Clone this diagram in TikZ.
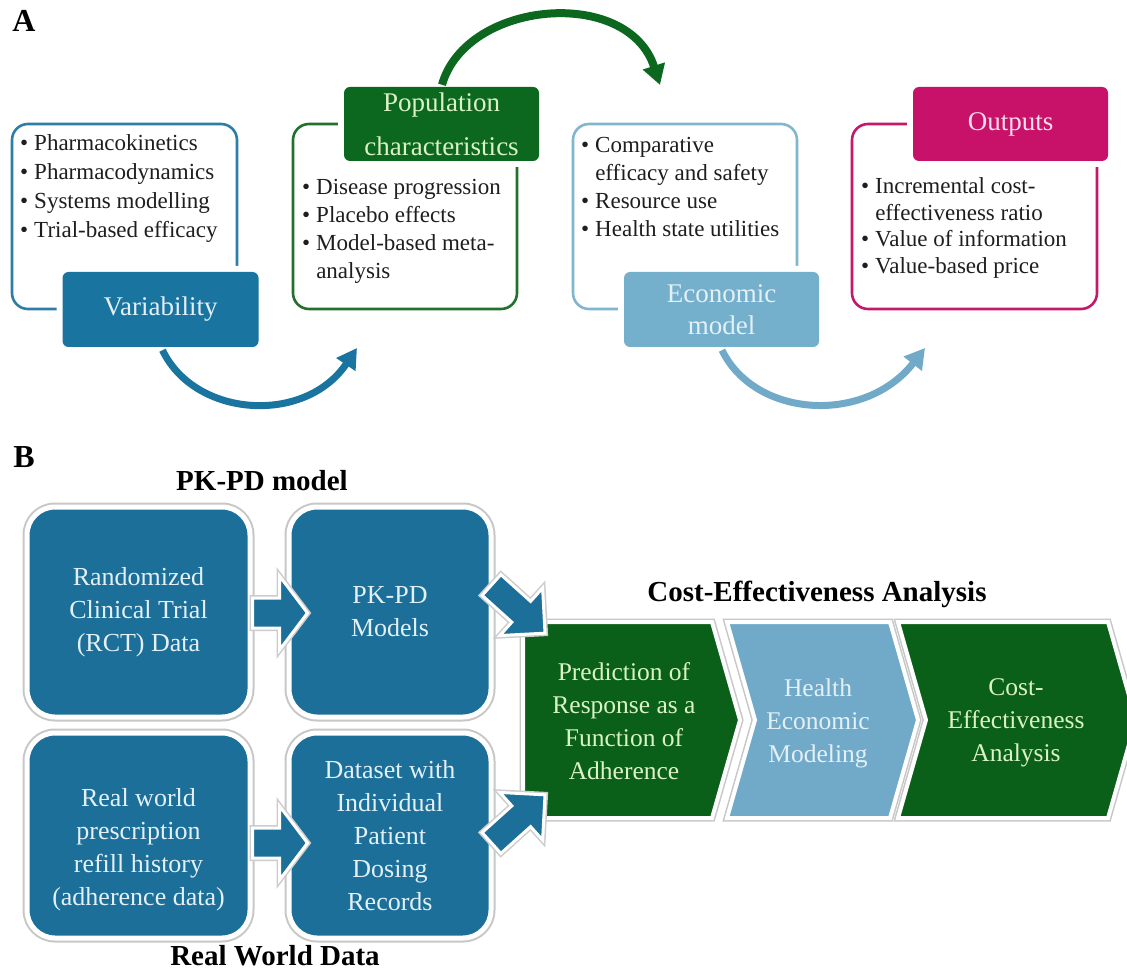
\documentclass[tikz,border=0pt]{standalone}
\usepackage{fontspec}
\setmainfont{Liberation Serif}
\usetikzlibrary{calc,arrows.meta}
\definecolor{vblue}{RGB}{26,116,160}
\definecolor{vline}{RGB}{45,125,165}
\definecolor{pgreen}{RGB}{12,104,30}
\definecolor{pline}{RGB}{35,112,45}
\definecolor{ebl}{RGB}{116,176,204}
\definecolor{eline}{RGB}{128,182,206}
\definecolor{mag}{RGB}{200,18,106}
\definecolor{magline}{RGB}{196,24,108}
\definecolor{bblue}{RGB}{27,111,153}
\definecolor{cgreen}{RGB}{10,96,24}
\definecolor{cblue}{RGB}{112,170,200}
\definecolor{gtext}{RGB}{218,242,196}
\definecolor{wtext}{RGB}{228,240,248}
\definecolor{ptext}{RGB}{250,222,236}
\definecolor{dtext}{RGB}{30,30,30}
\newcommand\myfs[2]{\fontsize{#1}{#2}\selectfont}
\begin{document}
\begin{tikzpicture}[x=1pt,y=-1pt,
  outbox/.style={rectangle, rounded corners=16pt, line width=2.6pt, inner sep=0pt},
  titlebox/.style={rectangle, rounded corners=6pt, inner sep=0pt, align=center, preaction={draw=white, line width=12pt}},
  bul/.style={anchor=base west, inner sep=0pt, text=dtext},
  curarrow/.style={line width=7pt, -{Triangle[length=20pt,width=22pt]}},
  bbox/.style={rectangle, rounded corners=28pt, fill=bblue, draw=white, line width=5pt, text=wtext, align=center, font=\myfs{26}{33}, inner sep=0pt, preaction={draw=black!22, line width=9pt}},
  btext/.style={text=wtext, align=center, font=\myfs{26}{33}, inner sep=0pt},
  barrowst/.style={fill=bblue, draw=white, line width=3pt, preaction={draw=black!20, line width=6pt}},
  chev/.style={draw=white, line width=4pt, preaction={draw=black!22, line width=7pt}},
  chevtext/.style={align=center, font=\myfs{25.5}{33}, inner sep=0pt},
  heading/.style={font=\bfseries\myfs{29}{34}, text=black, inner sep=0pt},
  harrow/.pic={\path[barrowst] (0,-15) -- (27,-15) -- (27,-37) -- (55,0) -- (27,37) -- (27,15) -- (0,15) -- cycle;},
  darrow/.pic={\path[barrowst] (0,-14) -- (40,-14) -- (40,-32) -- (72,0) -- (40,32) -- (40,14) -- (0,14) -- cycle;}
]
\useasboundingbox (0,0) rectangle (1127,973);
\clip (0,0) rectangle (1127,973);
\fill[white] (0,0) rectangle (1127,973);

% ---------- Panel A ----------
\node[heading, font=\bfseries\myfs{32}{36}] (hA) at (24,21) {A};

\node[outbox, draw=vline, minimum width=225pt, minimum height=185pt] (b1) at (124.5,216.5) {};
\node[outbox, draw=pline, minimum width=224pt, minimum height=185pt] (b2) at (405,216.5) {};
\node[outbox, draw=eline, minimum width=224pt, minimum height=185pt] (b3) at (685,216.5) {};
\node[outbox, draw=magline, minimum width=245pt, minimum height=185pt] (b4) at (974.5,216.5) {};

\node[titlebox, fill=vblue, text=wtext, minimum width=196pt, minimum height=75pt, font=\myfs{27}{32}] (var) at (160.5,309.5) {Variability};
\node[titlebox, fill=pgreen, text=gtext, minimum width=195pt, minimum height=74pt, font=\myfs{27}{44}] (pop) at (441.5,124) {Population\\characteristics};
\node[titlebox, fill=ebl, text=wtext, minimum width=195pt, minimum height=75pt, font=\myfs{27}{32}] (eco) at (721.5,309.5) {Economic\\model};
\node[titlebox, fill=mag, text=ptext, minimum width=195pt, minimum height=74pt, font=\myfs{27}{32}] (out) at (1010.5,124) {Outputs};

\node[bul, font=\myfs{23}{28.7}] (t1) at (20,151) {\begin{tabular}[t]{@{}l@{\hspace{6pt}}l@{}}\textbullet & Pharmacokinetics\\ \textbullet & Pharmacodynamics\\ \textbullet & Systems modelling\\ \textbullet & Trial-based efficacy\end{tabular}};
\node[bul, font=\myfs{23}{28}] (t2) at (302,195) {\begin{tabular}[t]{@{}l@{\hspace{6pt}}l@{}}\textbullet & Disease progression\\ \textbullet & Placebo effects\\ \textbullet & Model-based meta-\\ & analysis\end{tabular}};
\node[bul, font=\myfs{23}{28}] (t3) at (581,153) {\begin{tabular}[t]{@{}l@{\hspace{6pt}}l@{}}\textbullet & Comparative\\ & efficacy and safety\\ \textbullet & Resource use\\ \textbullet & Health state utilities\end{tabular}};
\node[bul, font=\myfs{23}{26.5}] (t4) at (861,194) {\begin{tabular}[t]{@{}l@{\hspace{6pt}}l@{}}\textbullet & Incremental cost-\\ & effectiveness ratio\\ \textbullet & Value of information\\ \textbullet & Value-based price\end{tabular}};

\coordinate (e1) at (357,348);
\coordinate (e2) at (660,85);
\coordinate (e3) at (925,348);
\draw[curarrow, draw=vblue] ($(var.south)+(2,3)$) .. controls (195,418) and (305,425) .. (e1);
\draw[curarrow, line width=8pt, draw=pgreen] ($(pop.north)+(0.5,-2)$) .. controls (466,0) and (628,-14) .. (e2);
\draw[curarrow, draw=cblue] ($(eco.south)+(0.5,3)$) .. controls (755,418) and (865,425) .. (e3);

% ---------- Panel B ----------
\node[heading, font=\bfseries\myfs{32}{36}] (hB) at (24,457) {B};
\node[heading] (h1) at (262,481) {PK-PD model};
\node[heading] (h2) at (817,594) {Cost-Effectiveness Analysis};
\node[heading] (h3) at (275,956) {Real World Data};

\node[bbox, minimum width=223pt, minimum height=210pt] (rct) at (138.5,612) {Randomized\\Clinical Trial\\(RCT) Data};
\node[bbox, minimum width=202pt, minimum height=210pt] (pkpd) at (390,612) {PK-PD\\Models};
\node[bbox, minimum width=223pt, minimum height=205pt] (real) at (138.5,835.5) {};
\node[btext] (realtxt) at (138.5,850) {Real world\\prescription\\refill history\\(adherence data)};
\node[bbox, minimum width=202pt, minimum height=205pt] (dset) at (390,835.5) {Dataset with\\Individual\\Patient\\Dosing\\Records};

\pic (a1) at ($(rct.east)+(0,1)$) {harrow};
\pic (a2) at ($(real.east)+(0,7.5)$) {harrow};

\path[chev, fill=cgreen] (523,622) -- (712,622) -- (740,720) -- (712,818) -- (523,818) -- cycle;
\path[chev, fill=cblue] (727,622) -- (890,622) -- (918,720) -- (890,818) -- (727,818) -- (755,720) -- cycle;
\path[chev, fill=cgreen] (898,622) -- (1108,622) -- (1136,720) -- (1108,818) -- (898,818) -- (926,720) -- cycle;

\pic[rotate=-42] (a3) at ($(pkpd.east)+(-2,-27)$) {darrow};
\pic[rotate=42] (a4) at ($(dset.east)+(-2,7.5)$) {darrow};

\node[chevtext, text=gtext] (c1) at (624,721) {Prediction of\\Response as a\\Function of\\Adherence};
\node[chevtext, text=wtext] (c2) at (818,723) {Health\\Economic\\Modeling};
\node[chevtext, text=gtext] (c3) at (1016,723) {Cost-\\Effectiveness\\Analysis};
\end{tikzpicture}
\end{document}
